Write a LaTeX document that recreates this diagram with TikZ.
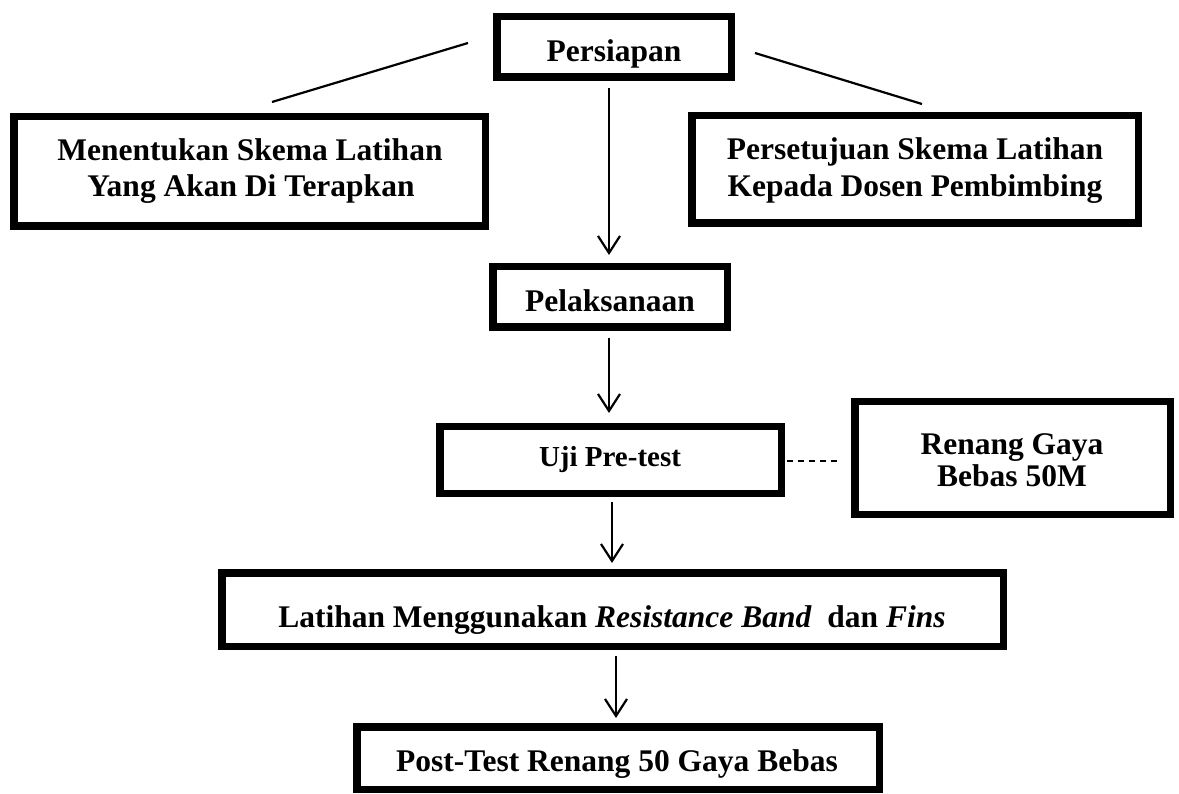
\documentclass[tikz,border=0pt]{standalone}
\usepackage{fontspec}
\setmainfont{Liberation Serif}
\usetikzlibrary{arrows.meta}
\begin{document}
\begin{tikzpicture}[x=1pt,y=-1pt,
  box/.style={draw=black,line width=7.5pt,rectangle,inner sep=0pt,fill=none},
  lbl/.style={anchor=base,inner sep=0pt,font=\fontsize{31.5}{36}\selectfont\bfseries},
  lblsmall/.style={anchor=base,inner sep=0pt,font=\fontsize{29}{34}\selectfont\bfseries},
  conn/.style={line width=2.2pt,black},
  arr/.style={conn,-{Straight Barb[length=17pt,width=22pt,line width=2.2pt]}},
  dashconn/.style={conn,dash pattern=on 6pt off 5pt}]
\useasboundingbox (0,0) rectangle (1179,794);
\fill[white] (0,0) rectangle (1179,794);

% boxes
\node[box,minimum width=234.5pt,minimum height=60.5pt] (persiapan) at (614,47) {};
\node[box,minimum width=471.5pt,minimum height=109.5pt] (skema) at (249.5,171.5) {};
\node[box,minimum width=446.5pt,minimum height=107.5pt] (setuju) at (915,169.5) {};
\node[box,minimum width=234.5pt,minimum height=60.5pt] (pelaksanaan) at (610,297) {};
\node[box,minimum width=341.5pt,minimum height=66.5pt] (uji) at (610.5,460) {};
\node[box,minimum width=315.5pt,minimum height=112.5pt] (renang) at (1012.5,458) {};
\node[box,minimum width=781.5pt,minimum height=73.5pt] (latihan) at (612.5,609.5) {};
\node[box,minimum width=522.5pt,minimum height=62.5pt] (post) at (618,758) {};

% texts
\node[lbl] (persiapan-t) at (614,62) {Persiapan};
\node[lbl] (skema-t1) at (250,161) {Menentukan Skema Latihan};
\node[lbl] (skema-t2) at (251,197) {Yang Akan Di Terapkan};
\node[lbl] (setuju-t1) at (915,160) {Persetujuan Skema Latihan};
\node[lbl] (setuju-t2) at (915,197) {Kepada Dosen Pembimbing};
\node[lbl] (pelaksanaan-t) at (610,312) {Pelaksanaan};
\node[lblsmall] (uji-t) at (610,466) {Uji Pre-test};
\node[lbl] (renang-t1) at (1012,454) {Renang Gaya};
\node[lbl] (renang-t2) at (1012,486) {Bebas 50M};
\node[lbl] (latihan-t) at (612,627) {Latihan Menggunakan \textit{Resistance Band}\ \ dan \textit{Fins}};
\node[lbl] (post-t) at (617,771) {Post-Test Renang 50 Gaya Bebas};

% connector end points
\coordinate (l1a) at (468,43);
\coordinate (l1b) at (272,102);
\coordinate (r1a) at (755,53);
\coordinate (r1b) at (922,104);
\coordinate (a1s) at (609,88);
\coordinate (a1e) at (609,255);
\coordinate (a2s) at (609,338);
\coordinate (a2e) at (609,413);
\coordinate (a3s) at (612,502);
\coordinate (a3e) at (612,563);
\coordinate (a4s) at (616,656);
\coordinate (a4e) at (616,718);
\coordinate (d1s) at (787,461);
\coordinate (d1e) at (838,461);

\draw[conn] (l1a) -- (l1b);
\draw[conn] (r1a) -- (r1b);
\draw[arr] (a1s) -- (a1e);
\draw[arr] (a2s) -- (a2e);
\draw[arr] (a3s) -- (a3e);
\draw[arr] (a4s) -- (a4e);
\draw[dashconn] (d1s) -- (d1e);
\end{tikzpicture}
\end{document}
